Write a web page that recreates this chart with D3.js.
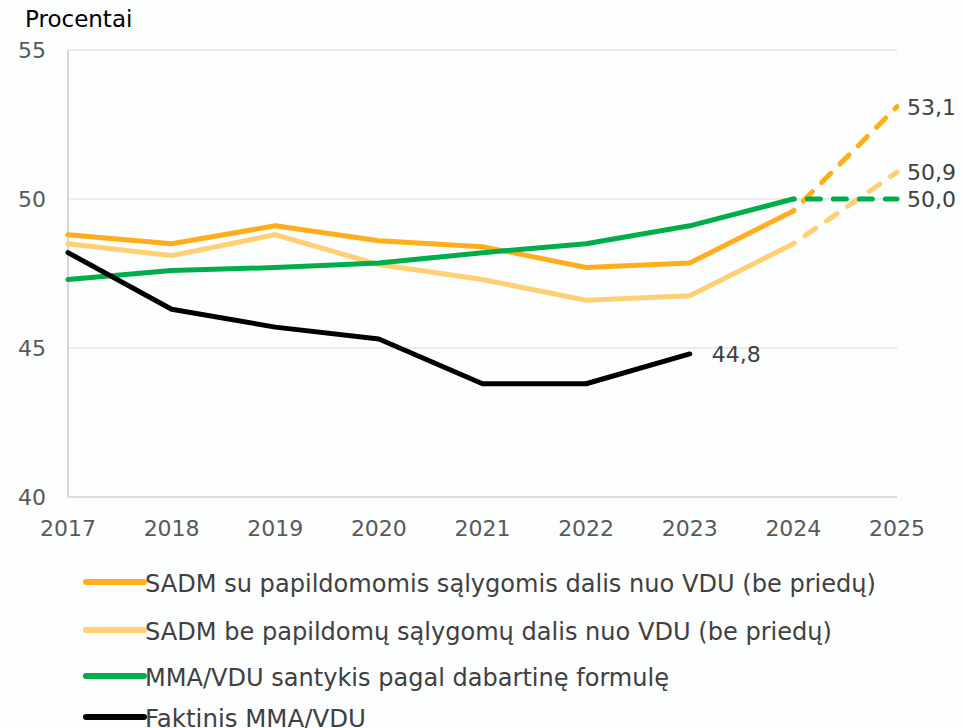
<!DOCTYPE html>
<meta charset="utf-8">
<style>
body { margin: 0; background: #fcfdfd; }
text { font-family: "DejaVu Sans", Verdana, sans-serif; }
</style>
<body>
<svg id="chart" width="963" height="728"></svg>
<script src="https://cdnjs.cloudflare.com/ajax/libs/d3/7.8.5/d3.min.js"></script>
<script>
// data
var years = [2017, 2018, 2019, 2020, 2021, 2022, 2023, 2024, 2025];
var sadmSu = [48.8, 48.5, 49.1, 48.6, 48.4, 47.7, 47.85, 49.6, 53.1];
var sadmBe = [48.5, 48.1, 48.8, 47.8, 47.3, 46.6, 46.75, 48.5, 50.9];
var mmaFormule = [47.3, 47.6, 47.7, 47.85, 48.2, 48.5, 49.1, 50.0, 50.0];
var faktinis = [48.2, 46.3, 45.7, 45.3, 43.8, 43.8, 44.8];
var yTicks = [40, 45, 50, 55];

var series = [
  {name: "SADM su papildomomis sąlygomis dalis nuo VDU (be priedų)", values: sadmSu, color: "#ffad1a", label: "53,1", legW: 731},
  {name: "SADM be papildomų sąlygomų dalis nuo VDU (be priedų)", values: sadmBe, color: "#ffcf73", label: "50,9", legW: 687},
  {name: "MMA/VDU santykis pagal dabartinę formulę", values: mmaFormule, color: "#00ad4a", label: "50,0", legW: 524},
  {name: "Faktinis MMA/VDU", values: faktinis, color: "#000000", label: "44,8", legW: 221}
];

var svg = d3.select("#chart");
var x = d3.scaleLinear().domain([2017, 2025]).range([68, 897]);
var y = d3.scaleLinear().domain([40, 55]).range([497, 50]);

// grid
svg.selectAll(".grid").data(yTicks.slice(1)).enter().append("line")
  .attr("x1", x(2017)).attr("x2", x(2025))
  .attr("y1", d => y(d)).attr("y2", d => y(d))
  .attr("stroke", "#d9d9d9").attr("stroke-width", 1);

// axes
svg.append("line").attr("x1", x(2017)).attr("x2", x(2017)).attr("y1", y(55)).attr("y2", y(40))
  .attr("stroke", "#bfbfbf").attr("stroke-width", 1.2);
svg.append("line").attr("x1", x(2017)).attr("x2", x(2025)).attr("y1", y(40)).attr("y2", y(40))
  .attr("stroke", "#bfbfbf").attr("stroke-width", 1.2);

svg.selectAll(".ytick").data(yTicks).enter().append("text")
  .attr("x", 46).attr("y", d => y(d) + 8)
  .attr("text-anchor", "end").attr("font-size", 22).attr("fill", "#595959")
  .text(d => d);

svg.selectAll(".xtick").data(years).enter().append("text")
  .attr("x", d => x(d)).attr("y", 536)
  .attr("text-anchor", "middle").attr("font-size", 22).attr("fill", "#595959")
  .text(d => d);

svg.append("text").attr("x", 25).attr("y", 27).attr("font-size", 23).attr("fill", "#000")
  .text("Procentai");

var line = d3.line().x((d, i) => x(years[i])).y(d => y(d));

series.forEach(function(s) {
  var solid = s.values.slice(0, 8);
  svg.append("path").datum(solid)
    .attr("d", line)
    .attr("fill", "none").attr("stroke", s.color).attr("stroke-width", 5)
    .attr("stroke-linejoin", "round").attr("stroke-linecap", "round");
  if (s.values.length > 8) {
    var dashed = d3.line().x((d, i) => x(years[7 + i])).y(d => y(d));
    svg.append("path").datum(s.values.slice(7))
      .attr("d", dashed)
      .attr("fill", "none").attr("stroke", s.color).attr("stroke-width", 5)
      .attr("stroke-dasharray", "13,13").attr("stroke-dashoffset", -14)
      .attr("stroke-linecap", "round");
  }
});

// end labels
series.forEach(function(s, i) {
  var n = s.values.length - 1;
  var lx = n === 8 ? x(years[n]) + 10 : x(years[n]) + 22;
  svg.append("text")
    .attr("x", lx).attr("y", y(s.values[n]) + 8)
    .attr("font-size", 22).attr("fill", "#404040")
    .text(s.label);
});

// legend
var leg = svg.selectAll(".leg").data(series).enter().append("g")
  .attr("transform", (d, i) => "translate(0," + [582, 630, 676, 717][i] + ")");
leg.append("line").attr("x1", 86).attr("x2", 144).attr("y1", 0).attr("y2", 0)
  .attr("stroke", d => d.color).attr("stroke-width", 6).attr("stroke-linecap", "round");
leg.append("text").attr("x", 145).attr("y", 10)
  .attr("font-size", 24).attr("fill", "#404040")
  .attr("textLength", d => d.legW).attr("lengthAdjust", "spacingAndGlyphs")
  .text(d => d.name);
</script>
</body>
